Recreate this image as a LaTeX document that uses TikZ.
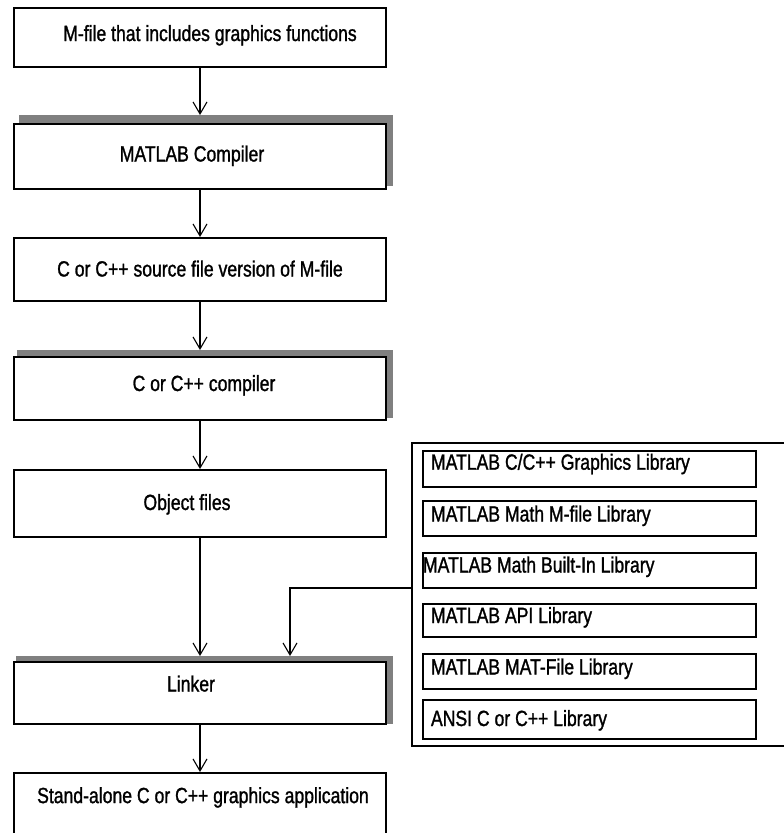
\documentclass[tikz,border=0pt]{standalone}
\usepackage{fontspec}
\setmainfont[FakeStretch=0.8,FakeBold=1.2]{Liberation Sans}
\usetikzlibrary{arrows.meta,calc,backgrounds}
\newcommand\boxtext[3]{\raisebox{#2}{\makebox[0pt]{\hspace*{#1}#3}}}
\newcommand\libtext[3]{\raisebox{#2}{\makebox[333pt][l]{\hspace*{#1}#3}}}
\definecolor{shadowgray}{HTML}{808080}
\begin{document}
\begin{tikzpicture}[x=1pt,y=-1pt,
  mainbox/.style={draw=black,fill=white,line width=2.2pt,minimum width=372pt,inner sep=0pt,
    text height=15.5pt,text depth=5.5pt,font=\fontsize{22}{26}\selectfont},
  libbox/.style={draw=black,fill=white,line width=2pt,minimum width=333pt,inner sep=0pt,
    text height=15.5pt,text depth=5.5pt,font=\fontsize{22}{26}\selectfont},
  container/.style={draw=black,line width=2pt,minimum width=378pt,minimum height=303pt,inner sep=0pt},
  arr/.style={line width=2pt,-{Straight Barb[length=12pt,width=14pt,line width=1.1pt]}},
  shadowfill/.style={fill=shadowgray}
]
\useasboundingbox (0,0) rectangle (784,833);
\clip (0,0) rectangle (784,833);

% main chain
\node[mainbox,minimum height=58.8pt] (b1) at (200,37.5) {\boxtext{20pt}{1.5pt}{M-file that includes graphics functions}};
\node[mainbox,minimum height=64.8pt] (b2) at (200,156.5) {\boxtext{-16pt}{0pt}{MATLAB Compiler}};
\node[mainbox,minimum height=62.8pt] (b3) at (200,269.5) {\boxtext{0pt}{-2pt}{C or C++ source file version of M-file}};
\node[mainbox,minimum height=62.8pt] (b4) at (200,388.5) {\boxtext{8pt}{2.5pt}{C or C++ compiler}};
\node[mainbox,minimum height=66.8pt] (b5) at (200,503.5) {\boxtext{-26pt}{-1.5pt}{Object files}};
\node[mainbox,minimum height=61.8pt] (b6) at (200,693) {\boxtext{-18pt}{6.5pt}{Linker}};
\node[mainbox,minimum height=70pt] (b7) at (200,808.1) {\boxtext{6pt}{10pt}{Stand-alone C or C++ graphics application}};

% shadows
\begin{scope}[on background layer]
  \fill[shadowfill] ($(b2.north west)+(6,-8)$) rectangle ($(b2.south east)+(6,-4)$);
  \fill[shadowfill] ($(b4.north west)+(4,-6)$) rectangle ($(b4.south east)+(6,-3)$);
  \fill[shadowfill] ($(b6.north west)+(3,-5)$) rectangle ($(b6.south east)+(6,-1)$);
\end{scope}

% library group
\node[container] (cont) at (601,594.5) {};
\node[libbox,minimum height=36pt] (l1) at (589.5,469) {\libtext{8pt}{4.3pt}{MATLAB C/C++ Graphics Library}};
\node[libbox,minimum height=35pt] (l2) at (589.5,518.5) {\libtext{8pt}{2pt}{MATLAB Math M-file Library}};
\node[libbox,minimum height=35pt] (l3) at (589.5,570.5) {\libtext{0pt}{3pt}{MATLAB Math Built-In Library}};
\node[libbox,minimum height=33pt] (l4) at (589.5,620.5) {\libtext{8pt}{2.5pt}{MATLAB API Library}};
\node[libbox,minimum height=35pt] (l5) at (589.5,671.5) {\libtext{8pt}{2pt}{MATLAB MAT-File Library}};
\node[libbox,minimum height=39pt] (l6) at (589.5,719.5) {\libtext{8pt}{-1.5pt}{ANSI C or C++ Library}};

\coordinate (j) at ($(cont.west)+(0,-6.5)$);
\coordinate (lin) at ($(b6.north)+(90,0)$);

% connectors
\draw[arr,shorten >=8pt] (b1.south) -- (b2.north);
\draw[arr] (b2.south) -- (b3.north);
\draw[arr,shorten >=6pt] (b3.south) -- (b4.north);
\draw[arr] (b4.south) -- (b5.north);
\draw[arr,shorten >=5pt] (b5.south) -- (b6.north);
\draw[arr] (b6.south) -- (b7.north);
\draw[arr,shorten >=5pt] (j) -| (lin);
\end{tikzpicture}
\end{document}
